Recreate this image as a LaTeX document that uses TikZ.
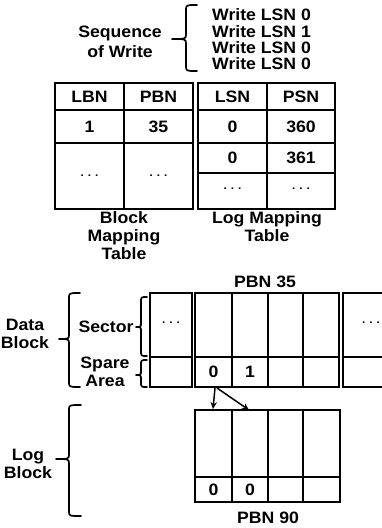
\documentclass[tikz,border=0pt]{standalone}
\usepackage{fontspec}
\setmainfont{Liberation Sans}[FakeStretch=1.07]
\usetikzlibrary{arrows.meta}
% #1 end x, #2 spine x, #3 tip x, #4 top y, #5 tip y, #6 bottom y
\newcommand{\bracepath}[7]{%
  \draw[brk] (#1,#4) .. controls (#2,#4) .. (#2,{#4-5}) -- (#2,{#5+5})
    .. controls (#2,#5) .. (#3,#5) coordinate (#7)
    .. controls (#2,#5) .. (#2,{#5-5}) -- (#2,{#6+5})
    .. controls (#2,#6) .. (#1,#6);}
\begin{document}
\begin{tikzpicture}[x=1pt,y=1pt,
  every node/.style={font=\fontsize{16.5}{16.5}\selectfont\bfseries, inner sep=0pt},
  lbl/.style={align=center, font=\fontsize{16.5}{18}\selectfont\bfseries},
  cell/.style={line width=1.5pt},
  outer/.style={line width=2.2pt},
  brk/.style={line width=1.7pt, line cap=round, line join=round},
  arr/.style={-{Stealth[length=7pt,width=6.5pt]}, line width=1.5pt},
  dots/.style={font=\fontsize{11}{11}\selectfont\bfseries}
]
\clip (0,0) rectangle (382,-528);
\fill[white] (0,0) rectangle (382,-528);

% ---- sequence of write
\node[lbl, font=\fontsize{16.5}{20}\selectfont\bfseries] (seq) at (120,-42) {Sequence\\of Write};
\bracepath{197}{186}{172}{-5}{-39}{-71}{seqtip}
\node[anchor=west] (w1) at (212,-15) {Write LSN 0};
\node[anchor=west] (w2) at (212,-32) {Write LSN 1};
\node[anchor=west] (w3) at (212,-48) {Write LSN 0};
\node[anchor=west] (w4) at (212,-64) {Write LSN 0};

% ---- block mapping table
\draw[outer] (55,-83) rectangle (193,-209);
\draw[cell] (55,-110) -- (193,-110);
\draw[cell] (55,-143) -- (193,-143);
\draw[cell] (124,-83) -- (124,-209);
\node (lbn) at (89.5,-96.5) {LBN};
\node (pbn) at (158.5,-96.5) {PBN};
\node (b1) at (89.5,-126.5) {1};
\node (b35) at (158.5,-126.5) {35};
\node[dots] (bd1) at (89.5,-176) {.\hspace{4pt}.\hspace{4pt}.};
\node[dots] (bd2) at (158.5,-176) {.\hspace{4pt}.\hspace{4pt}.};
\node[lbl, anchor=north] (bmt) at (124,-211) {Block\\Mapping\\Table};

% ---- log mapping table
\draw[outer] (198,-83) rectangle (335,-209);
\draw[cell] (198,-110) -- (335,-110);
\draw[cell] (198,-143) -- (335,-143);
\draw[cell] (198,-173) -- (335,-173);
\draw[cell] (267,-83) -- (267,-209);
\node (lsn) at (232.5,-96.5) {LSN};
\node (psn) at (301,-96.5) {PSN};
\node (l0a) at (232.5,-126.5) {0};
\node (p360) at (301,-126.5) {360};
\node (l0b) at (232.5,-158) {0};
\node (p361) at (301,-158) {361};
\node[dots] (ld1) at (232.5,-189) {.\hspace{4pt}.\hspace{4pt}.};
\node[dots] (ld2) at (301,-189) {.\hspace{4pt}.\hspace{4pt}.};
\node[lbl, anchor=north] (lmt) at (267,-211) {Log Mapping\\Table};

% ---- data block
\node (pbn35) at (265,-282) {PBN 35};
\draw[outer] (150,-293) rectangle (192,-387);
\draw[cell] (150,-357) -- (192,-357);
\node[dots] (dd1) at (171,-323) {.\hspace{4pt}.\hspace{4pt}.};
\draw[outer] (195,-293) rectangle (339,-387);
\draw[cell] (195,-357) -- (339,-357);
\foreach \x in {232,268,303} \draw[cell] (\x,-293) -- (\x,-387);
\node (s0) at (213.5,-372) {0};
\node (s1) at (250,-372) {1};
\draw[outer] (343,-293) rectangle (400,-387);
\draw[cell] (343,-357) -- (400,-357);
\node[dots] (dd2) at (371,-323) {.\hspace{4pt}.\hspace{4pt}.};

\node (sector) at (106,-327) {Sector};
\bracepath{147}{141}{136}{-297}{-327}{-356}{sectip}
\node[lbl] (spare) at (105,-372) {Spare\\Area};
\bracepath{147}{141}{136}{-360}{-375}{-387}{sptip}
\node[lbl] (data) at (25,-334) {Data\\Block};
\bracepath{80}{69}{59}{-293}{-339}{-387}{dbtip}

% ---- log block
\draw[outer] (195,-410) rectangle (340,-502);
\draw[cell] (195,-477) -- (340,-477);
\foreach \x in {232,268,303} \draw[cell] (\x,-410) -- (\x,-502);
\node (g0a) at (213.5,-490) {0};
\node (g0b) at (250,-490) {0};
\node (pbn90) at (268,-518) {PBN 90};
\node[lbl] (logb) at (28,-464) {Log\\Block};
\bracepath{81}{69}{56}{-405}{-459}{-516}{lbtip}

% ---- arrows
\coordinate (src1) at (215,-388);
\coordinate (src2) at (217,-388);
\coordinate (dst1) at (213,-409);
\coordinate (dst2) at (249,-410);
\draw[arr] (src1) -- (dst1);
\draw[arr] (src2) -- (dst2);
\end{tikzpicture}
\end{document}
